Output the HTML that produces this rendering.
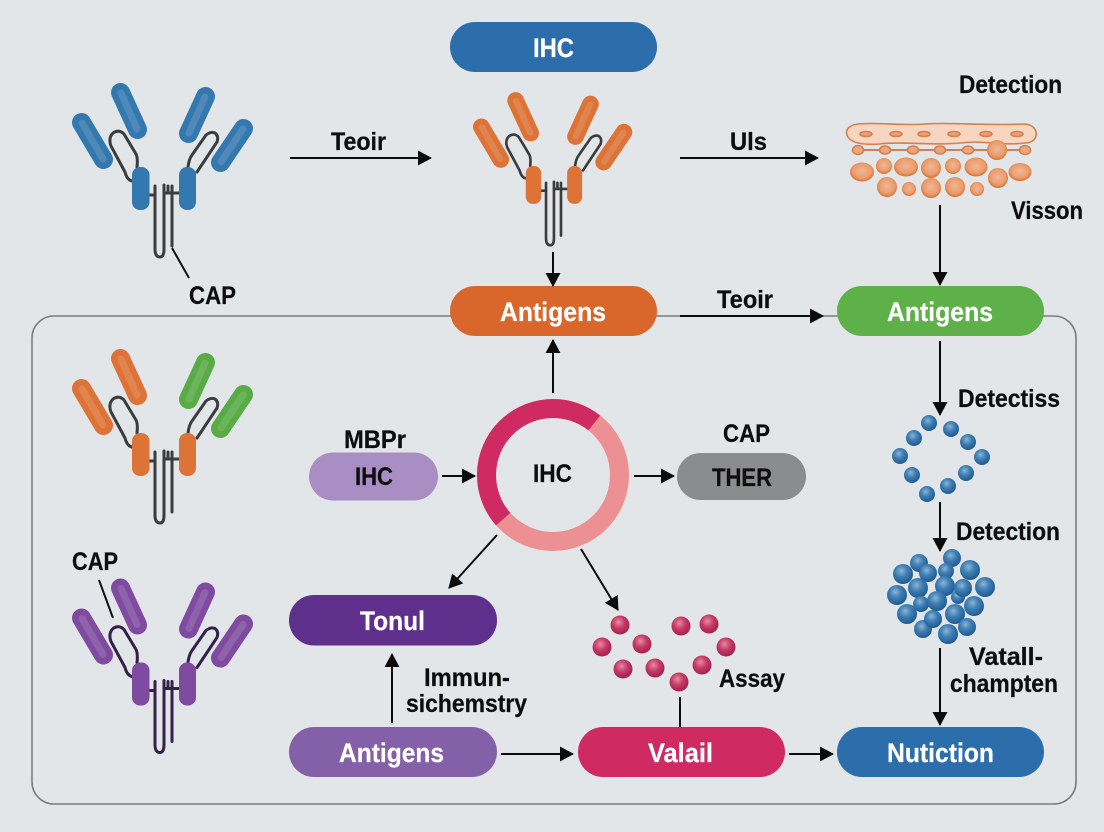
<!DOCTYPE html>
<html><head><meta charset="utf-8"><style>
html,body{margin:0;padding:0;background:#e2e6e8}
svg{display:block}
text{font-family:"Liberation Sans",sans-serif;font-weight:700;fill:#0d0d0d;font-size:25px;stroke:#0d0d0d;stroke-width:.25}
text.w{fill:#fff;stroke:#fff;font-size:27px}
</style></head><body>
<svg width="1104" height="832" viewBox="0 0 1104 832" xmlns="http://www.w3.org/2000/svg">
<defs>
<marker id="a" markerUnits="userSpaceOnUse" markerWidth="16" markerHeight="16" refX="13" refY="7.5" orient="auto"><path d="M0 0L14 7.5L0 15Z" fill="#0b0b0b"/></marker>
<radialGradient id="bs" cx="42%" cy="35%" r="65%"><stop offset="0" stop-color="#8db4d2"/><stop offset=".45" stop-color="#3f80b6"/><stop offset="1" stop-color="#1f5a8f"/></radialGradient>
<radialGradient id="rs" cx="42%" cy="35%" r="65%"><stop offset="0" stop-color="#e58aa5"/><stop offset=".5" stop-color="#c53a66"/><stop offset="1" stop-color="#a61f4c"/></radialGradient>
<radialGradient id="os" cx="50%" cy="45%" r="55%"><stop offset="0" stop-color="#efb796"/><stop offset=".7" stop-color="#eb9c6c"/><stop offset="1" stop-color="#d5712f"/></radialGradient>
<g id="arms">
<g stroke-linecap="round" fill="none" stroke-width="19">
<line x1="81.500" y1="122.500" x2="103.500" y2="159.500"/>
<line x1="120.500" y1="92.500" x2="137.500" y2="129.500"/>
<line x1="205.500" y1="96.500" x2="188.500" y2="133.500"/>
<line x1="243.500" y1="128.500" x2="220.500" y2="162.500"/>
</g></g>
<g id="shine" stroke="#fff" stroke-opacity=".13" stroke-linecap="round" fill="none" stroke-width="7">
<line x1="82" y1="123" x2="103" y2="159"/><line x1="121" y1="93" x2="137" y2="129"/><line x1="205" y1="97" x2="189" y2="133"/><line x1="243" y1="129" x2="221" y2="162"/>
</g>
<g id="wires" fill="none" stroke-width="3" stroke-linecap="round" stroke-linejoin="round">
<path d="M132 181Q127 180 125 172L111 146Q108 138 113 133Q119 129 124 134L136 154Q138 158 137 167"/>
<path d="M188 167Q189 159 192 155L206 135Q211 131 215 133Q219 136 217 142L197 172"/>
<path d="M155 186V249Q155 257 160 257Q164 257 164 249V185"/>
<path d="M172 186V246"/>
<path d="M149 195H155M164 193H179M168 186V193"/>
</g>
</defs>
<rect width="1104" height="832" fill="#e2e6e8"/>
<rect x="32" y="316" width="1044" height="488" rx="22" fill="none" stroke="#7a7d7f" stroke-width="1.6"/>

<!-- pills -->
<rect x="450" y="22" width="207" height="50" rx="25" fill="#2c6dab"/>
<rect x="450" y="286" width="207" height="50" rx="25" fill="#d9662a"/>
<rect x="837" y="286" width="207" height="50" rx="25" fill="#5eb048"/>
<rect x="309" y="452.500" width="129" height="48" rx="24" fill="#a98ec3"/>
<rect x="677" y="453" width="129" height="47" rx="23.500" fill="#8b8c8d"/>
<rect x="289" y="595" width="208" height="50.500" rx="25" fill="#5e2f8b"/>
<rect x="289" y="727" width="208" height="50" rx="25" fill="#8360a8"/>
<rect x="578" y="727" width="207" height="50" rx="25" fill="#d02a62"/>
<rect x="837" y="727" width="207" height="50" rx="25" fill="#2c6dab"/>

<!-- antibodies -->
<g><!-- blue -->
<use href="#arms" stroke="#3478b0"/><use href="#shine"/>
<use href="#wires" stroke="#3a3c3e"/>
<rect x="132" y="167" width="17.500" height="43" rx="8" fill="#3478b0"/><rect x="179" y="167" width="17" height="43" rx="8" fill="#3478b0"/>
<line x1="172" y1="248" x2="189" y2="278" stroke="#111" stroke-width="2"/>
</g>
<g transform="translate(553.500 93) scale(.88) translate(-163.500 -84)">
<use href="#arms" stroke="#dd7336"/><use href="#shine"/>
<use href="#wires" stroke="#3a3c3e"/>
<rect x="132" y="167" width="17.500" height="43" rx="8" fill="#dd7336"/><rect x="179" y="167" width="17" height="43" rx="8" fill="#dd7336"/>
</g>
<g transform="translate(0 266)">
<g stroke-linecap="round" fill="none" stroke-width="19">
<line x1="81.500" y1="122.500" x2="103.500" y2="159.500" stroke="#dd7336"/><line x1="120.500" y1="92.500" x2="137.500" y2="129.500" stroke="#dd7336"/>
<line x1="205.500" y1="96.500" x2="188.500" y2="133.500" stroke="#58ab45"/><line x1="243.500" y1="128.500" x2="220.500" y2="162.500" stroke="#58ab45"/>
</g><use href="#shine"/>
<use href="#wires" stroke="#3a3c3e"/>
<rect x="132" y="167" width="17.500" height="43" rx="8" fill="#dd7336"/><rect x="179" y="167" width="17" height="43" rx="8" fill="#dd7336"/>
</g>
<g transform="translate(0 495.500)">
<use href="#arms" stroke="#7f4ba0"/><use href="#shine"/>
<use href="#wires" stroke="#35204a"/>
<rect x="132" y="167" width="17.500" height="43" rx="8" fill="#7f4ba0"/><rect x="179" y="167" width="17" height="43" rx="8" fill="#7f4ba0"/>
</g>
<line x1="99" y1="580" x2="113" y2="618" stroke="#111" stroke-width="2"/>

<!-- tissue -->
<g stroke="#d47f4e" stroke-width="1.600">
<path d="M858 124C880 122 900 126 925 124C950 122 985 126 1025 124C1040 125 1040 143 1025 143C1000 146 985 140 960 143C935 146 900 141 880 144C865 145 850 144 847 135C845 129 850 125 858 124Z" fill="#f6d6c1"/>
<g fill="#ec9f75"><ellipse cx="866" cy="134" rx="6" ry="2.500"/><ellipse cx="896" cy="134" rx="6" ry="2.500"/><ellipse cx="924" cy="134" rx="6" ry="2.500"/><ellipse cx="954" cy="134" rx="6" ry="2.500"/><ellipse cx="986" cy="134" rx="6" ry="2.500"/><ellipse cx="1017" cy="134" rx="6" ry="2.500"/></g>
<line x1="858" y1="150" x2="1025" y2="150" stroke-width="2"/>
<g fill="#eba67f"><ellipse cx="858" cy="150" rx="5.500" ry="4.500"/><ellipse cx="885" cy="150" rx="5.500" ry="4"/><ellipse cx="913" cy="150" rx="5.500" ry="4"/><ellipse cx="940" cy="150" rx="5.500" ry="4"/><ellipse cx="968" cy="150" rx="5.500" ry="4"/><ellipse cx="1025" cy="150" rx="5.500" ry="4.500"/></g>
</g>
<g fill="url(#os)">
<circle cx="997" cy="150" r="10"/>
<ellipse cx="862" cy="172" rx="12" ry="9.500"/><circle cx="884" cy="166" r="8"/><ellipse cx="906" cy="167" rx="12" ry="9.500"/><circle cx="931" cy="168" r="10"/><circle cx="953" cy="166" r="8"/><ellipse cx="976" cy="167" rx="11.500" ry="9.500"/><circle cx="998" cy="178" r="10"/><ellipse cx="1020" cy="172" rx="11.500" ry="9"/><circle cx="887" cy="187" r="10"/><circle cx="909" cy="189" r="7"/><circle cx="931" cy="188" r="10"/><circle cx="955" cy="187" r="10"/><circle cx="977" cy="189" r="7"/>
</g>

<!-- ring -->
<circle cx="553" cy="475" r="66.500" fill="none" stroke="#ec9093" stroke-width="19"/>
<path d="M594.300 422.900A66.500 66.500 0 0 0 503.200 519.100" fill="none" stroke="#d02a62" stroke-width="19"/>

<!-- spheres -->
<g fill="url(#bs)">
<circle cx="929" cy="423" r="8"/><circle cx="951" cy="429" r="8"/><circle cx="914" cy="438" r="8"/><circle cx="968" cy="442" r="8"/><circle cx="900" cy="456" r="8"/><circle cx="982" cy="457" r="8"/><circle cx="912" cy="475" r="8"/><circle cx="966" cy="473" r="8"/><circle cx="927" cy="494" r="8"/><circle cx="948" cy="486" r="8"/>
<circle cx="952" cy="558" r="9"/><circle cx="919" cy="563" r="9"/><circle cx="903" cy="574" r="10"/><circle cx="970" cy="570" r="10"/><circle cx="946" cy="571" r="8"/><circle cx="928" cy="573" r="9"/><circle cx="985" cy="587" r="10"/><circle cx="897" cy="595" r="10"/><circle cx="918" cy="588" r="10"/><circle cx="958" cy="597" r="7"/><circle cx="945" cy="586" r="10"/><circle cx="963" cy="588" r="9"/><circle cx="921" cy="604" r="8"/><circle cx="937" cy="601" r="10"/><circle cx="974" cy="606" r="10"/><circle cx="907" cy="614" r="10"/><circle cx="923" cy="629" r="9"/><circle cx="955" cy="614" r="10"/><circle cx="933" cy="619" r="9"/><circle cx="967" cy="627" r="9"/><circle cx="948" cy="634" r="10"/>
</g>
<g fill="url(#rs)">
<circle cx="620" cy="625" r="9.500"/><circle cx="681" cy="626" r="9.500"/><circle cx="709" cy="624" r="9.500"/><circle cx="602" cy="647" r="9.500"/><circle cx="642" cy="644" r="9.500"/><circle cx="726" cy="647" r="9.500"/><circle cx="623" cy="669" r="9.500"/><circle cx="655" cy="668" r="9.500"/><circle cx="702" cy="665" r="9.500"/><circle cx="679" cy="682" r="9.500"/>
</g>

<!-- connectors -->
<g stroke="#0b0b0b" stroke-width="2" fill="none">
<line x1="290" y1="158" x2="431" y2="158" marker-end="url(#a)"/>
<line x1="680" y1="158" x2="818" y2="158" marker-end="url(#a)"/>
<line x1="553" y1="252" x2="553" y2="286" marker-end="url(#a)"/>
<line x1="940" y1="205" x2="940" y2="285" marker-end="url(#a)"/>
<line x1="680" y1="316" x2="823" y2="316" marker-end="url(#a)"/>
<line x1="940" y1="341" x2="940" y2="415" marker-end="url(#a)"/>
<line x1="553" y1="393" x2="553" y2="340" marker-end="url(#a)"/>
<line x1="442" y1="476" x2="475" y2="476" marker-end="url(#a)"/>
<line x1="634" y1="476" x2="674" y2="476" marker-end="url(#a)"/>
<line x1="497" y1="535" x2="449" y2="588" marker-end="url(#a)"/>
<line x1="581" y1="549" x2="618" y2="610" marker-end="url(#a)"/>
<line x1="392" y1="723" x2="392" y2="654" marker-end="url(#a)"/>
<line x1="501" y1="754" x2="573" y2="754" marker-end="url(#a)"/>
<line x1="789" y1="754" x2="833" y2="754" marker-end="url(#a)"/>
<line x1="940" y1="502" x2="940" y2="551" marker-end="url(#a)"/>
<line x1="940" y1="648" x2="940" y2="725" marker-end="url(#a)"/>
<line x1="680" y1="697" x2="680" y2="727"/>
</g>

<!-- labels -->
<text x="331" y="150" textLength="55" lengthAdjust="spacingAndGlyphs">Teoir</text>
<text x="730" y="150" textLength="37" lengthAdjust="spacingAndGlyphs">Uls</text>
<text x="189" y="304" textLength="47" lengthAdjust="spacingAndGlyphs">CAP</text>
<text x="959" y="93" textLength="103" lengthAdjust="spacingAndGlyphs">Detection</text>
<text x="1011" y="219" textLength="72" lengthAdjust="spacingAndGlyphs">Visson</text>
<text x="717" y="308" textLength="56" lengthAdjust="spacingAndGlyphs">Teoir</text>
<text x="958" y="407" textLength="102" lengthAdjust="spacingAndGlyphs">Detectiss</text>
<text x="344" y="448" textLength="62" lengthAdjust="spacingAndGlyphs">MBPr</text>
<text x="723" y="442" textLength="47" lengthAdjust="spacingAndGlyphs">CAP</text>
<text x="956" y="540" textLength="104" lengthAdjust="spacingAndGlyphs">Detection</text>
<text x="72" y="570" textLength="46" lengthAdjust="spacingAndGlyphs">CAP</text>
<text x="424" y="686" textLength="86" lengthAdjust="spacingAndGlyphs">Immun-</text>
<text x="406" y="712" textLength="121" lengthAdjust="spacingAndGlyphs">sichemstry</text>
<text x="719" y="687" textLength="66" lengthAdjust="spacingAndGlyphs">Assay</text>
<text x="969" y="665" textLength="74" lengthAdjust="spacingAndGlyphs">Vatall-</text>
<text x="950" y="692" textLength="108" lengthAdjust="spacingAndGlyphs">champten</text>
<text x="533" y="482" textLength="39" lengthAdjust="spacingAndGlyphs">IHC</text>
<text x="355" y="485" textLength="38" lengthAdjust="spacingAndGlyphs">IHC</text>
<text x="712" y="486" textLength="60" lengthAdjust="spacingAndGlyphs">THER</text>
<text class="w" x="533" y="57" textLength="41" lengthAdjust="spacingAndGlyphs">IHC</text>
<text class="w" x="500" y="321" textLength="106" lengthAdjust="spacingAndGlyphs">Antigens</text>
<text class="w" x="887" y="321" textLength="106" lengthAdjust="spacingAndGlyphs">Antigens</text>
<text class="w" x="360" y="630" textLength="65" lengthAdjust="spacingAndGlyphs">Tonul</text>
<text class="w" x="339" y="762" textLength="105" lengthAdjust="spacingAndGlyphs">Antigens</text>
<text class="w" x="648" y="762" textLength="65" lengthAdjust="spacingAndGlyphs">Valail</text>
<text class="w" x="887" y="762" textLength="107" lengthAdjust="spacingAndGlyphs">Nutiction</text>
</svg>
</body></html>
